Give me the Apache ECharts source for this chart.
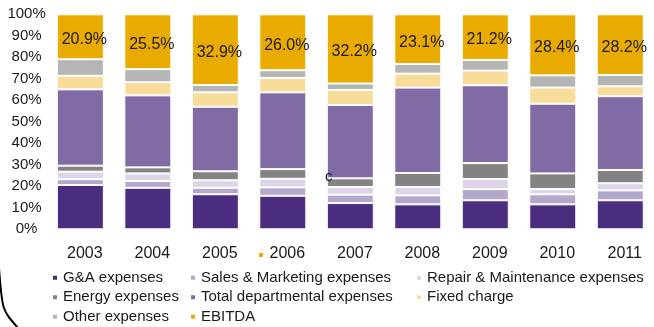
<!DOCTYPE html>
<html>
<head>
<meta charset="utf-8">
<script src="https://cdn.jsdelivr.net/npm/echarts@6/dist/echarts.min.js"></script>
<style>
    html, body { margin: 0; padding: 0; background: #fff; }
    #chart { width: 654px; height: 327px; }
</style>
</head>
<body>
<div id="chart"></div>
<script>
const FONT = '"Liberation Sans", Arial, sans-serif'

const years = ['2003', '2004', '2005', '2006', '2007', '2008', '2009', '2010', '2011']
const yTicks = [0, 10, 20, 30, 40, 50, 60, 70, 80, 90, 100]

// shares of revenue, in %
const gaExpenses = [20.6, 19.3, 16.3, 15.6, 12.2, 11.6, 13.5, 11.6, 13.5]
const salesMarketing = [2.7, 3.2, 3.0, 3.9, 3.9, 4.2, 5.2, 4.7, 4.6]
const repairMaintenance = [3.5, 3.5, 3.5, 4.0, 3.6, 3.9, 4.7, 2.4, 3.3]
const energyExpenses = [2.8, 2.8, 4.2, 4.5, 4.0, 6.5, 7.4, 7.3, 6.2]
const totalDepartmental = [35.5, 33.5, 30.0, 35.7, 34.1, 39.7, 36.2, 32.4, 34.3]
const fixedCharge = [6.3, 6.1, 6.7, 6.7, 7.0, 6.5, 6.8, 7.5, 4.6]
const otherExpenses = [7.7, 6.1, 3.4, 3.6, 3.0, 4.5, 5.0, 5.7, 5.3]
const ebitda = [20.9, 25.5, 32.9, 26.0, 32.2, 23.1, 21.2, 28.4, 28.2]

const seriesDefs = [
    { name: 'G&A expenses', data: gaExpenses, color: '#4b2d7f' },
    { name: 'Sales & Marketing expenses', data: salesMarketing, color: '#b4a7cc' },
    { name: 'Repair & Maintenance expenses', data: repairMaintenance, color: '#ddd5e7' },
    { name: 'Energy expenses', data: energyExpenses, color: '#838383' },
    { name: 'Total departmental expenses', data: totalDepartmental, color: '#806ba5' },
    { name: 'Fixed charge', data: fixedCharge, color: '#f8dc9a' },
    { name: 'Other expenses', data: otherExpenses, color: '#b5b5b5' },
    { name: 'EBITDA', data: ebitda, color: '#eaab00' },
]

function buildSeries() {
    return seriesDefs.map(def => {
        const s = {
            name: def.name,
            type: 'bar',
            stack: 'total',
            barWidth: 47,
            data: def.data,
            itemStyle: { color: def.color, borderColor: '#fff', borderWidth: 1 },
        }
        if (def.name === 'EBITDA') {
            s.label = {
                show: true,
                position: 'inside',
                offset: [4, 3],
                color: '#1a1a1a',
                fontFamily: FONT,
                fontSize: 16,
                formatter: p => p.value.toFixed(1) + '%',
            }
        }
        return s
    })
}

// three legend columns, like the original layout
function legendColumn(left, names) {
    return {
        orient: 'vertical',
        left: left,
        top: 268,
        height: 80,
        padding: 0,
        itemWidth: 6,
        itemHeight: 6,
        itemGap: 0,
        icon: 'rect',
        selectedMode: false,
        data: names,
        textStyle: { fontFamily: FONT, fontSize: 15, color: '#1a1a1a', lineHeight: 19.5 },
    }
}

const option = {
    animation: false,
    backgroundColor: '#fff',
    color: seriesDefs.map(d => d.color),
    grid: { left: 46.6, top: 14.3, width: 615, height: 215 },
    legend: [
        legendColumn(51, ['G&A expenses', 'Energy expenses', 'Other expenses']),
        legendColumn(189, ['Sales & Marketing expenses', 'Total departmental expenses', 'EBITDA']),
        legendColumn(415, ['Repair & Maintenance expenses', 'Fixed charge']),
    ],
    xAxis: {
        type: 'category',
        data: years,
        axisLine: { show: false },
        axisTick: { show: false },
        axisLabel: {
            margin: 16,
            padding: [0, 0, 0, 9],
            fontFamily: FONT,
            fontSize: 16,
            color: '#1a1a1a',
        },
    },
    yAxis: {
        type: 'value',
        min: yTicks[0],
        max: yTicks[yTicks.length - 1],
        interval: yTicks[1] - yTicks[0],
        splitLine: { show: false },
        axisLine: { show: false },
        axisTick: { show: false },
        axisLabel: {
            align: 'center',
            margin: 20,
            fontFamily: FONT,
            fontSize: 15,
            color: '#1a1a1a',
            formatter: '{value}%',
        },
    },
    series: buildSeries(),
    // stray bits that are in the original picture
    graphic: [
        {
            type: 'bezierCurve',
            shape: { x1: -1, y1: 268, cpx1: 2, cpy1: 310, cpx2: 2, cpy2: 310, x2: 18, y2: 328 },
            style: { stroke: '#000', lineWidth: 2, fill: null },
        },
        {
            type: 'rect',
            shape: { x: 259, y: 253, width: 4, height: 4 },
            style: { fill: '#eaab00' },
        },
        {
            type: 'text',
            z: 100,
            x: 325,
            y: 169,
            style: { text: 'c', font: '15px "Liberation Sans", Arial, sans-serif', fill: '#1a1a1a' },
        },
    ],
}

const chart = echarts.init(document.getElementById('chart'))
chart.setOption(option)
</script>
</body>
</html>
